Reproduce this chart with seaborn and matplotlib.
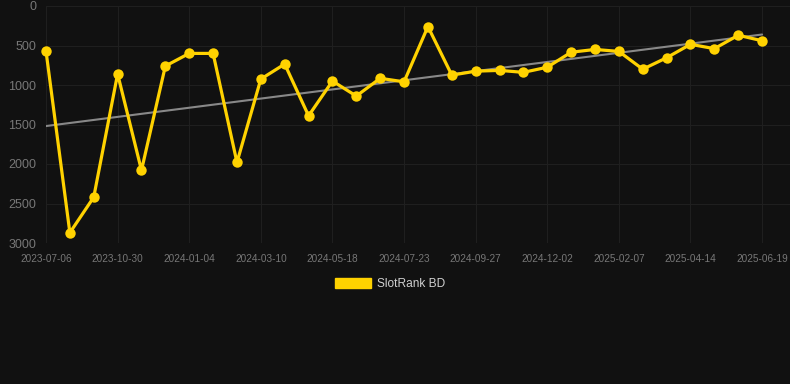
import numpy as np
import pandas as pd
import matplotlib
matplotlib.use("Agg")
import matplotlib.pyplot as plt
from matplotlib.patches import Patch
import seaborn as sns

# dates (only every 3rd one is readable on the chart, the rest are estimates)
dates = ["2023-07-06", "2023-08-14", "2023-09-22", "2023-10-30", "2023-11-21", "2023-12-13",
         "2024-01-04", "2024-01-26", "2024-02-17", "2024-03-10", "2024-04-01", "2024-04-24",
         "2024-05-18", "2024-06-09", "2024-07-01", "2024-07-23", "2024-08-14", "2024-09-05",
         "2024-09-27", "2024-10-19", "2024-11-10", "2024-12-02", "2024-12-24", "2025-01-16",
         "2025-02-07", "2025-03-01", "2025-03-23", "2025-04-14", "2025-05-06", "2025-05-28",
         "2025-06-19"]
rank = [570, 2870, 2420, 860, 2080, 760, 600, 600, 1980, 925, 735, 1390, 950, 1140, 915,
        960, 260, 875, 825, 815, 840, 775, 585, 550, 575, 800, 655, 485, 540, 370, 440]
y_ticks = [0, 500, 1000, 1500, 2000, 2500, 3000]

bg = "#111111"
grid_col = "#1f1f1f"
label_col = "#777777"
gold = "#FFD200"

df = pd.DataFrame({"idx": range(len(dates)), "date": dates, "rank": rank})

# linear trend over the category index
coef = np.polyfit(df["idx"], df["rank"], 1)
df["trend"] = np.polyval(coef, df["idx"])

sns.set_theme(style="dark")
plt.rcParams["font.family"] = ["Liberation Sans", "DejaVu Sans"]

fig = plt.figure(figsize=(7.9, 3.84), dpi=100, facecolor=bg)
ax = fig.add_axes([46 / 790, 1 - 243 / 384, (790 - 46) / 790, (243 - 6) / 384])
ax.set_facecolor(bg)

sns.lineplot(data=df, x="idx", y="trend", ax=ax, color="#888888", linewidth=1.5, zorder=2)
sns.lineplot(data=df, x="idx", y="rank", ax=ax, color=gold, linewidth=2.3, marker="o",
             markersize=7.5, markeredgewidth=0, zorder=3, clip_on=False)

ax.set_xlim(0, (790 - 46) / 23.87)
ax.set_ylim(3000, 0)
ax.set_yticks(y_ticks)
ax.set_yticklabels([str(v) for v in y_ticks])
ax.set_xticks(df["idx"][::3])
ax.set_xticklabels(df["date"][::3])
ax.grid(True, color=grid_col, linewidth=0.8)
ax.tick_params(axis="y", colors=grid_col, labelcolor=label_col, labelsize=9, length=5, width=0.8, pad=2)
ax.tick_params(axis="x", colors=grid_col, labelcolor=label_col, labelsize=7.2, length=6, width=0.8, pad=2)
for s in ax.spines.values():
    s.set_visible(False)
ax.set_xlabel("")
ax.set_ylabel("")

ax.legend(handles=[Patch(color=gold)], labels=["SlotRank BD"], loc="center",
          bbox_to_anchor=(390 / 790, 1 - 284 / 384), bbox_transform=fig.transFigure,
          frameon=False, fontsize=8.6, handlelength=3.0, handleheight=0.9, handletextpad=0.5,
          labelcolor="#d0d0d0")

fig.savefig("out.png", dpi=100, facecolor=bg)
